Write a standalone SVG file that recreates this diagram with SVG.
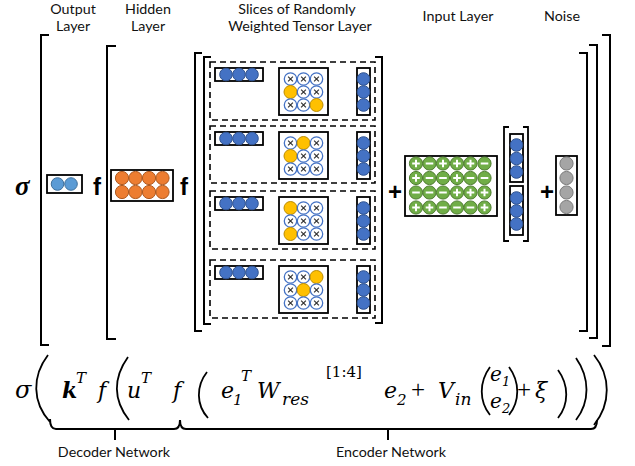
<svg xmlns="http://www.w3.org/2000/svg" xmlns:xlink="http://www.w3.org/1999/xlink" width="635" height="466" viewBox="0 0 635 466">
  <style>
    .lbl { font-family: Lato, "Open Sans", "Liberation Sans", sans-serif; font-size: 14.3px; fill: #111; text-anchor: middle; }
    .op { font-family: "Liberation Sans", Arial, sans-serif; font-weight: bold; font-size: 24px; fill: #000; text-anchor: middle; }
    .m { font-family: "DejaVu Serif", "Liberation Serif", serif; font-style: italic; font-size: 22px; fill: #000; }
    .ms { font-family: "DejaVu Serif", "Liberation Serif", serif; font-style: italic; font-size: 15px; fill: #000; }
    .mu { font-family: "Liberation Serif", "DejaVu Serif", serif; font-size: 25px; fill: #000; }
    .br { fill: none; stroke: #000; stroke-width: 2; }
    .dl { fill: none; stroke: #000; stroke-width: 1.8; }
    .box { fill: #fff; stroke: #000; stroke-width: 1.8; }
    .dash { fill: none; stroke: #000; stroke-width: 1.6; stroke-dasharray: 6 4; }
    .bl { fill: #4472C4; stroke: #2F528F; stroke-width: 1; }
    .lb { fill: #5B9BD5; stroke: #41719C; stroke-width: 1; }
    .yo { fill: #FFC000; stroke: #BC8C00; stroke-width: 1; }
    .or { fill: #ED7D31; stroke: #AE5A21; stroke-width: 1; }
    .gr { fill: #70AD47; stroke: #507E32; stroke-width: 1; }
    .gy { fill: #A5A5A5; stroke: #7B7B7B; stroke-width: 1; }
    .xc { fill: #fff; stroke: #4472C4; stroke-width: 1.3; }
    .xm { stroke: #333; stroke-width: 1.2; }
    .sg { stroke: #fff; stroke-width: 2; }
  </style>
  <defs>
    <!-- tensor element: empty (crossed) cell -->
    <g id="x">
      <circle class="xc" r="6.2"/>
      <path class="xm" d="M-2.4,-2.4 L2.4,2.4 M2.4,-2.4 L-2.4,2.4"/>
    </g>
    <!-- tensor element: active cell -->
    <circle id="o" class="yo" r="6.5"/>
    <circle id="b" class="bl" r="6.3"/>
    <!-- input weight signs -->
    <g id="p">
      <circle class="gr" r="6.6"/>
      <path class="sg" d="M-3.8,0 H3.8 M0,-3.8 V3.8"/>
    </g>
    <g id="n">
      <circle class="gr" r="6.6"/>
      <path class="sg" d="M-3.8,0 H3.8"/>
    </g>
  </defs>

  <!-- column titles -->
  <g id="titles">
    <text class="lbl" x="73" y="14">Output</text>
    <text class="lbl" x="73" y="31">Layer</text>
    <text class="lbl" x="148" y="14">Hidden</text>
    <text class="lbl" x="148" y="31">Layer</text>
    <text class="lbl" x="297" y="14">Slices of Randomly</text>
    <text class="lbl" x="300" y="31">Weighted Tensor Layer</text>
    <text class="lbl" x="458" y="21">Input Layer</text>
    <text class="lbl" x="562" y="21">Noise</text>
  </g>

  <!-- square brackets -->
  <g id="brackets">
    <path class="br" d="M49,35 H41 V345 H49"/>
    <path class="br" d="M602,35 H610 V346 H602"/>
    <path class="br" d="M116,46 H107 V339 H116"/>
    <path class="br" d="M589,45 H597 V338 H589"/>
    <path class="br" d="M202,53 H195 V331 H202"/>
    <path class="br" d="M579,53 H587 V331 H579"/>
    <path class="br" d="M211,57 H204 V324 H211"/>
    <path class="br" d="M375,57 H382 V323 H375"/>
  </g>

  <!-- activation sigma -->
  <g id="sigma">
    <text x="15" y="195" style="font-family:'Liberation Serif',serif;font-weight:bold;font-style:italic;font-size:27px">σ</text>
  </g>

  <!-- output layer -->
  <g id="output-layer">
    <rect class="box" x="47" y="175" width="35" height="18"/>
    <circle class="lb" cx="57.5" cy="184" r="6.3"/>
    <circle class="lb" cx="71" cy="184" r="6.3"/>
  </g>

  <text class="op" x="97" y="195">f</text>

  <!-- hidden layer -->
  <g id="hidden-layer">
    <rect class="box" x="111" y="170" width="62" height="31"/>
    <g class="or">
      <circle cx="122" cy="178" r="6.6"/><circle cx="135.5" cy="178" r="6.6"/><circle cx="149" cy="178" r="6.6"/><circle cx="162.5" cy="178" r="6.6"/>
      <circle cx="122" cy="192" r="6.6"/><circle cx="135.5" cy="192" r="6.6"/><circle cx="149" cy="192" r="6.6"/><circle cx="162.5" cy="192" r="6.6"/>
    </g>
  </g>

  <text class="op" x="184" y="195">f</text>

  <!-- tensor slices -->
  <g id="slice-1">
    <rect class="dash" x="210" y="62" width="165" height="58"/>
    <rect class="box" x="215" y="68" width="48" height="13"/>
    <use xlink:href="#b" x="226" y="74.5"/><use xlink:href="#b" x="239" y="74.5"/><use xlink:href="#b" x="252" y="74.5"/>
    <rect class="box" x="279" y="68" width="49" height="47"/>
    <use xlink:href="#x" x="290.5" y="79"/><use xlink:href="#x" x="303.5" y="79"/><use xlink:href="#x" x="316.5" y="79"/>
    <use xlink:href="#o" x="290.5" y="92"/><use xlink:href="#x" x="303.5" y="92"/><use xlink:href="#x" x="316.5" y="92"/>
    <use xlink:href="#x" x="290.5" y="105"/><use xlink:href="#x" x="303.5" y="105"/><use xlink:href="#o" x="316.5" y="105"/>
    <rect class="box" x="357" y="68" width="13" height="47"/>
    <use xlink:href="#b" x="363.5" y="79"/><use xlink:href="#b" x="363.5" y="92"/><use xlink:href="#b" x="363.5" y="105"/>
  </g>
  <g id="slice-2" transform="translate(0,64)">
    <rect class="dash" x="210" y="62" width="165" height="57"/>
    <rect class="box" x="215" y="68" width="48" height="13"/>
    <use xlink:href="#b" x="226" y="74.5"/><use xlink:href="#b" x="239" y="74.5"/><use xlink:href="#b" x="252" y="74.5"/>
    <rect class="box" x="279" y="68" width="49" height="47"/>
    <use xlink:href="#x" x="290.5" y="79"/><use xlink:href="#o" x="303.5" y="79"/><use xlink:href="#x" x="316.5" y="79"/>
    <use xlink:href="#o" x="290.5" y="92"/><use xlink:href="#x" x="303.5" y="92"/><use xlink:href="#x" x="316.5" y="92"/>
    <use xlink:href="#x" x="290.5" y="105"/><use xlink:href="#x" x="303.5" y="105"/><use xlink:href="#x" x="316.5" y="105"/>
    <rect class="box" x="357" y="68" width="13" height="47"/>
    <use xlink:href="#b" x="363.5" y="79"/><use xlink:href="#b" x="363.5" y="92"/><use xlink:href="#b" x="363.5" y="105"/>
  </g>
  <g id="slice-3" transform="translate(0,129)">
    <rect class="dash" x="210" y="62" width="165" height="58"/>
    <rect class="box" x="215" y="68" width="48" height="13"/>
    <use xlink:href="#b" x="226" y="74.5"/><use xlink:href="#b" x="239" y="74.5"/><use xlink:href="#b" x="252" y="74.5"/>
    <rect class="box" x="279" y="68" width="49" height="47"/>
    <use xlink:href="#o" x="290.5" y="79"/><use xlink:href="#x" x="303.5" y="79"/><use xlink:href="#x" x="316.5" y="79"/>
    <use xlink:href="#x" x="290.5" y="92"/><use xlink:href="#x" x="303.5" y="92"/><use xlink:href="#x" x="316.5" y="92"/>
    <use xlink:href="#o" x="290.5" y="105"/><use xlink:href="#x" x="303.5" y="105"/><use xlink:href="#x" x="316.5" y="105"/>
    <rect class="box" x="357" y="68" width="13" height="47"/>
    <use xlink:href="#b" x="363.5" y="79"/><use xlink:href="#b" x="363.5" y="92"/><use xlink:href="#b" x="363.5" y="105"/>
  </g>
  <g id="slice-4" transform="translate(0,198)">
    <rect class="dash" x="210" y="62" width="165" height="58"/>
    <rect class="box" x="215" y="68" width="48" height="13"/>
    <use xlink:href="#b" x="226" y="74.5"/><use xlink:href="#b" x="239" y="74.5"/><use xlink:href="#b" x="252" y="74.5"/>
    <rect class="box" x="279" y="68" width="49" height="47"/>
    <use xlink:href="#x" x="290.5" y="79"/><use xlink:href="#x" x="303.5" y="79"/><use xlink:href="#o" x="316.5" y="79"/>
    <use xlink:href="#x" x="290.5" y="92"/><use xlink:href="#o" x="303.5" y="92"/><use xlink:href="#x" x="316.5" y="92"/>
    <use xlink:href="#x" x="290.5" y="105"/><use xlink:href="#x" x="303.5" y="105"/><use xlink:href="#x" x="316.5" y="105"/>
    <rect class="box" x="357" y="68" width="13" height="47"/>
    <use xlink:href="#b" x="363.5" y="79"/><use xlink:href="#b" x="363.5" y="92"/><use xlink:href="#b" x="363.5" y="105"/>
  </g>

  <text class="op" x="395" y="200">+</text>

  <!-- input weights -->
  <g id="input-layer">
    <rect class="box" x="405" y="156" width="92" height="60"/>
    <use xlink:href="#p" x="416" y="163.5"/><use xlink:href="#n" x="429.5" y="163.5"/><use xlink:href="#p" x="443" y="163.5"/><use xlink:href="#p" x="457" y="163.5"/><use xlink:href="#p" x="470.5" y="163.5"/><use xlink:href="#n" x="484.5" y="163.5"/>
    <use xlink:href="#p" x="416" y="178"/><use xlink:href="#n" x="429.5" y="178"/><use xlink:href="#n" x="443" y="178"/><use xlink:href="#p" x="457" y="178"/><use xlink:href="#n" x="470.5" y="178"/><use xlink:href="#n" x="484.5" y="178"/>
    <use xlink:href="#n" x="416" y="192.5"/><use xlink:href="#n" x="429.5" y="192.5"/><use xlink:href="#n" x="443" y="192.5"/><use xlink:href="#p" x="457" y="192.5"/><use xlink:href="#p" x="470.5" y="192.5"/><use xlink:href="#p" x="484.5" y="192.5"/>
    <use xlink:href="#p" x="416" y="207.5"/><use xlink:href="#p" x="429.5" y="207.5"/><use xlink:href="#n" x="443" y="207.5"/><use xlink:href="#n" x="457" y="207.5"/><use xlink:href="#n" x="470.5" y="207.5"/><use xlink:href="#p" x="484.5" y="207.5"/>
  </g>

  <!-- stacked input vector -->
  <g id="input-vector">
    <path class="dl" d="M509,127 H504 V241 H509"/>
    <path class="dl" d="M523,127 H528 V241 H523"/>
    <rect class="box" x="510" y="134" width="13" height="48"/>
    <use xlink:href="#b" x="516.5" y="145"/><use xlink:href="#b" x="516.5" y="158.5"/><use xlink:href="#b" x="516.5" y="172"/>
    <rect class="box" x="510" y="186" width="13" height="49"/>
    <use xlink:href="#b" x="516.5" y="198"/><use xlink:href="#b" x="516.5" y="211"/><use xlink:href="#b" x="516.5" y="224"/>
  </g>

  <text class="op" x="547" y="200">+</text>

  <!-- noise -->
  <g id="noise">
    <rect class="box" x="556" y="156" width="21" height="59"/>
    <circle class="gy" cx="566.5" cy="163.5" r="6.6"/>
    <circle class="gy" cx="566.5" cy="178" r="6.6"/>
    <circle class="gy" cx="566.5" cy="192.5" r="6.6"/>
    <circle class="gy" cx="566.5" cy="207" r="6.6"/>
  </g>

  <!-- equation -->
  <g id="equation">
    <text class="m" x="15" y="398" style="font-size:24px">σ</text>
    <path class="dl" d="M48,355 C32,376 32,402 50,422"/>
    <text class="m" x="62" y="398" font-weight="bold">k</text>
    <text class="ms" x="76" y="383">T</text>
    <text class="m" x="98" y="398">f</text>
    <path class="dl" d="M128,357 C113,378 113,400 129,420"/>
    <text class="m" x="127" y="398">u</text>
    <text class="ms" x="141" y="383">T</text>
    <text class="m" x="173" y="398">f</text>
    <path class="dl" d="M207,372 C196,386 196,405 208,418"/>
    <text class="m" x="221" y="398">e</text>
    <text class="ms" x="233" y="405">1</text>
    <text class="ms" x="241" y="381">T</text>
    <text class="m" x="257" y="398">W</text>
    <text class="ms" x="282" y="405" style="font-size:17px">res</text>
    <text x="326" y="377" style="font-family:'DejaVu Serif',serif;font-size:15px">[1:4]</text>
    <text class="m" x="384" y="398">e</text>
    <text class="ms" x="397" y="405">2</text>
    <text class="mu" x="411" y="398">+</text>
    <text class="m" x="438" y="398">V</text>
    <text class="ms" x="455" y="405" style="font-size:17px">in</text>
    <path class="dl" d="M490,367 C479,382 479,401 490,415"/>
    <text class="m" x="490" y="381" style="font-size:20px">e</text>
    <text class="ms" x="502" y="386" style="font-size:13px">1</text>
    <text class="m" x="490" y="408" style="font-size:20px">e</text>
    <text class="ms" x="502" y="413" style="font-size:13px">2</text>
    <path class="dl" d="M509,367 C520,382 520,401 509,415"/>
    <text class="mu" x="517" y="398">+</text>
    <text class="m" x="535" y="398">ξ</text>
    <path class="dl" d="M558,370 C569,385 569,404 558,418"/>
    <path class="dl" d="M576,358 C590,378 590,402 576,420"/>
    <path class="dl" d="M594,355 C611,376 611,404 594,425"/>
  </g>

  <!-- network braces -->
  <g id="braces">
    <path class="br" d="M50,419 Q50,429 56,429 H174 Q180,429 180,420"/>
    <path class="br" d="M115,429 V440"/>
    <path class="br" d="M180,420 Q180,429 186,429 H591 Q597,429 597,420"/>
    <path class="br" d="M388,429 V440"/>
    <text class="lbl" x="114" y="457">Decoder Network</text>
    <text class="lbl" x="391" y="457">Encoder Network</text>
  </g>
</svg>
